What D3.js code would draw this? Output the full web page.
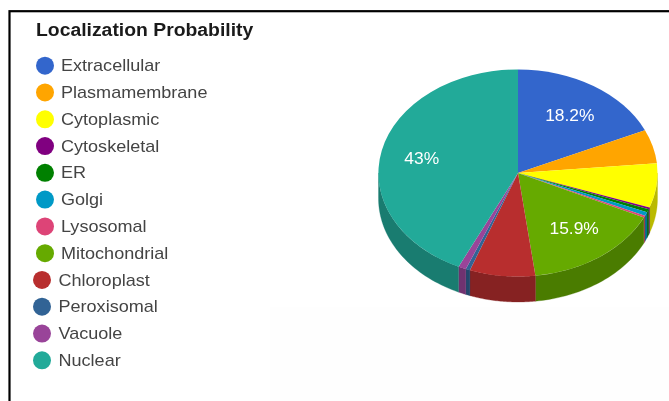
<!DOCTYPE html>
<html><head><meta charset="utf-8">
<script src="https://cdn.jsdelivr.net/npm/d3@7"></script>
<style>html,body{margin:0;padding:0;background:#fff}svg{display:block;filter:blur(0.45px)}text{font-family:"Liberation Sans",Arial,sans-serif}</style>
</head><body><svg id="c" width="669" height="401"></svg>
<script>
const categories=["Extracellular","Plasmamembrane","Cytoplasmic","Cytoskeletal","ER","Golgi","Lysosomal","Mitochondrial","Chloroplast","Peroxisomal","Vacuole","Nuclear"];
const values=[18.2,5.3,6.9,0.3,0.5,0.6,0.3,15.9,7.6,0.5,0.9,43];
const colors=["#3366cc","#ffa500","#ffff00","#800080","#008000","#0099c6","#dd4477","#66aa00","#b82e2e","#316395","#994499","#22aa99"];
const shownLabels=["Extracellular","Mitochondrial","Nuclear"];
const title="Localization Probability";

const svg=d3.select("#c");
const cx=518,cy=173,rx=139.5,ry=103.5,depth=25.5;
// faint off-white patch below the pie
svg.append("rect").attr("x",270).attr("y",307).attr("width",399).attr("height",94).attr("fill","#fefefe");
// frame
svg.append("rect").attr("x",9.5).attr("y",11.2).attr("width",700).attr("height",500)
 .attr("fill","none").attr("stroke","#000").attr("stroke-width",2.2);
// title
svg.append("text").attr("transform","translate(36,36) scale(1.1,1)").attr("font-size",17.6).attr("font-weight","bold").attr("fill","#1a1a1a").text(title);
// legend
const yLegend=d3.scaleLinear().domain([0,categories.length-1]).range([65.7,360.3]);
const leg=svg.append("g").selectAll("g").data(categories).join("g")
 .attr("transform",(d,i)=>`translate(${i>=8?42:45},${yLegend(i)})`);
leg.append("circle").attr("r",9).attr("fill",(d,i)=>colors[i]);
leg.append("text").attr("transform",(d,i)=>`translate(${i>=8?16.5:16},5.6) scale(1.115,1)`).attr("font-size",16.2).attr("fill","#444").text(d=>d);
// pie
const pie=d3.pie().sort(null).value(d=>d)(values);
const g=svg.append("g").attr("transform",`translate(${cx},${cy})`);
const sx=d3.scaleLinear().domain([-1,1]).range([-rx,rx]);
const sy=d3.scaleLinear().domain([-1,1]).range([-ry,ry]);
const darken=c=>{const r=d3.rgb(c);return d3.rgb(r.r*.73,r.g*.73,r.b*.73).formatHex();};
const line=d3.line().x(d=>d[0]).y(d=>d[1]);
// side walls: only the front half of the ellipse (angles between PI/2 and 3PI/2)
pie.forEach((s,i)=>{
  const a0=Math.max(s.startAngle,Math.PI/2),a1=Math.min(s.endAngle,Math.PI*1.5);
  if(a1<=a0)return;
  const ang=d3.range(0,41).map(k=>a0+(a1-a0)*k/40);
  const top=ang.map(a=>[sx(Math.sin(a)),sy(-Math.cos(a))]);
  const bot=ang.slice().reverse().map(a=>[sx(Math.sin(a)),sy(-Math.cos(a))+depth]);
  g.append("path").attr("d",line(top.concat(bot))+"Z").attr("fill",darken(colors[i])).attr("stroke",darken(colors[i])).attr("stroke-width",.3);
});
// top face
const arc=d3.arc().innerRadius(0).outerRadius(1);
const face=g.append("g").attr("transform",`scale(${rx},${ry})`);
face.selectAll("path").data(pie).join("path").attr("d",arc).attr("fill",(d,i)=>colors[i]);
// labels
g.selectAll("text").data(pie.filter((d,i)=>shownLabels.includes(categories[i]))).join("text")
 .attr("x",d=>sx(.7*Math.sin((d.startAngle+d.endAngle)/2))-1)
 .attr("y",d=>sy(-.66*Math.cos((d.startAngle+d.endAngle)/2))+5.5)
 .attr("text-anchor","middle").attr("font-size",17.4).attr("fill","#fff")
 .text(d=>d.value+"%");
</script></body></html>
